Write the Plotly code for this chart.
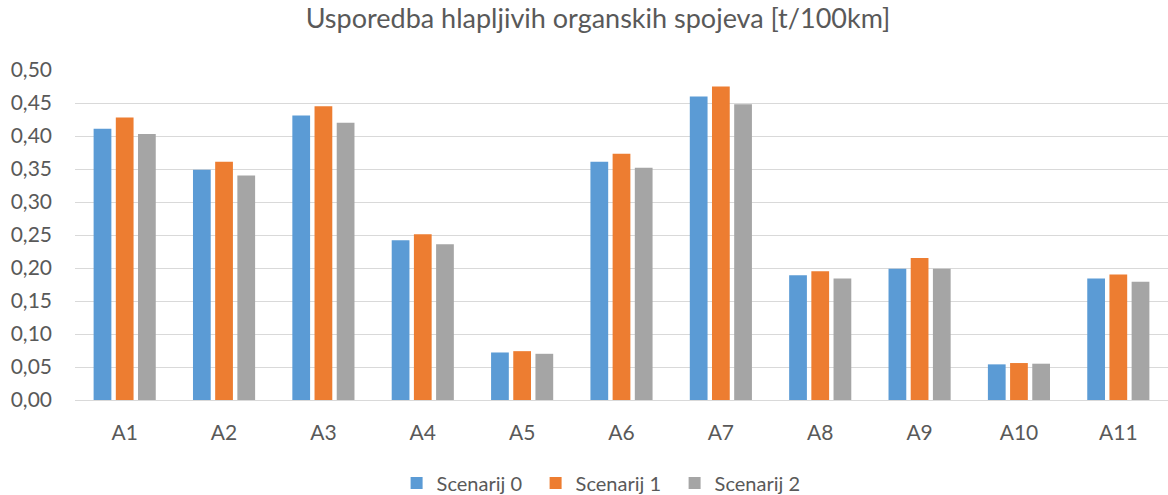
import plotly.graph_objects as go

categories = ["A1", "A2", "A3", "A4", "A5", "A6", "A7", "A8", "A9", "A10", "A11"]
scenarij_0 = [0.411, 0.349, 0.431, 0.242, 0.072, 0.361, 0.460, 0.189, 0.199, 0.054, 0.184]
scenarij_1 = [0.428, 0.361, 0.445, 0.251, 0.074, 0.373, 0.475, 0.195, 0.215, 0.056, 0.190]
scenarij_2 = [0.403, 0.340, 0.420, 0.236, 0.070, 0.352, 0.448, 0.184, 0.199, 0.055, 0.179]
series_names = ["Scenarij 0", "Scenarij 1", "Scenarij 2"]
colors = ["#5b9bd5", "#ed7d31", "#a5a5a5"]

font_family = "Lato, Open Sans, sans-serif"
text_color = "#595959"

fig = go.Figure()
for name, vals, col in zip(series_names, [scenarij_0, scenarij_1, scenarij_2], colors):
    fig.add_trace(go.Bar(x=categories, y=vals, name=name, marker_color=col,
                         marker_line_width=0))

fig.update_layout(
    width=1168, height=495,
    paper_bgcolor="white", plot_bgcolor="white",
    margin=dict(l=75, r=0, t=70, b=95, autoexpand=False),
    barmode="group", bargap=0.33, bargroupgap=0.2,
    separators=",.",
    title=dict(text="Usporedba hlapljivih organskih spojeva [t/100km]",
               x=0.512, xanchor="center", y=0.963, yanchor="middle",
               font=dict(family=font_family, size=27, color=text_color)),
    font=dict(family=font_family, size=20, color=text_color),
    legend=dict(orientation="h", x=0.485, xanchor="center",
                yref="container", y=0.024, yanchor="middle",
                font=dict(size=20, color=text_color), itemwidth=30,
                entrywidth=94, entrywidthmode="pixels",
                traceorder="normal"),
    yaxis=dict(range=[0, 0.5], dtick=0.05, tickformat=".2f",
               showgrid=True, gridcolor="#d9d9d9", gridwidth=1,
               zeroline=True, zerolinecolor="#d9d9d9", zerolinewidth=1,
               showline=False, ticks="", ticklabelstandoff=22,
               tickfont=dict(size=21, color=text_color)),
    xaxis=dict(showline=False, ticks="", tickfont=dict(size=21, color=text_color),
               ticklabelstandoff=18),
)

fig.write_html("out.html", config={"displayModeBar": False},
               post_script="document.body.style.margin='0';document.body.style.overflow='hidden';")
